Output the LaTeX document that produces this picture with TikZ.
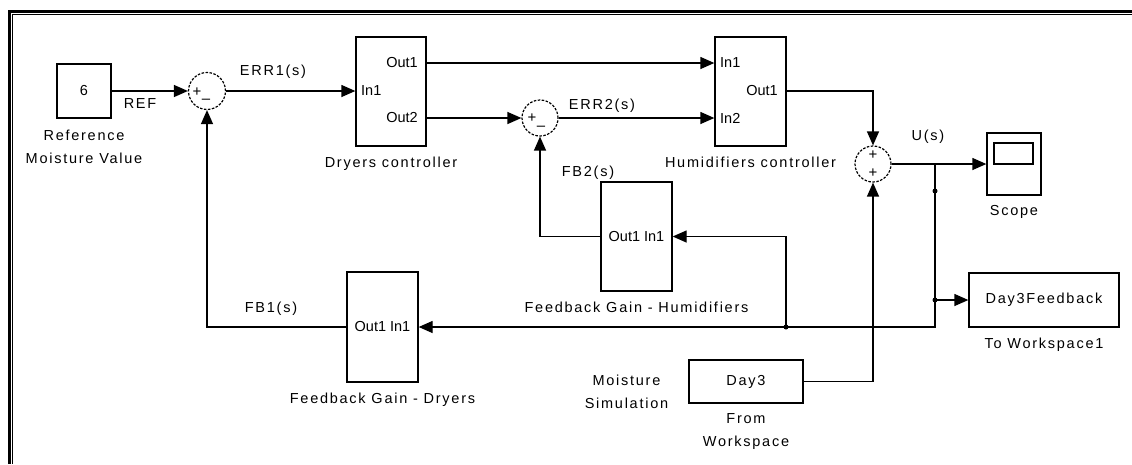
\documentclass[tikz,border=0pt]{standalone}
\usepackage{fontspec}
\setmainfont{Liberation Sans}
\newfontfamily\lblfont[LetterSpace=12]{Liberation Sans}
\usetikzlibrary{arrows.meta,positioning}

\begin{document}
\begin{tikzpicture}[
    x=1pt, y=-1pt,
    node distance=10pt,
    block/.style={draw, line width=1.3pt, inner sep=0pt, font=\lblfont\fontsize{14.5}{16}\selectfont},
    sumnode/.style={draw, circle, dash pattern=on 2.5pt off 1.5pt, line width=1.2pt, minimum size=37pt, inner sep=0pt},
    sig/.style={line width=1.3pt, -{Triangle[length=14pt,width=12pt]}},
    lbl/.style={font=\lblfont\fontsize{14.5}{23}\selectfont, inner sep=0pt, align=center},
    port/.style={font=\fontsize{14.5}{16}\selectfont, inner sep=0pt},
    sgn/.style={font=\fontsize{15}{16}\selectfont, inner sep=0pt},
    dot/.style={circle, fill, inner sep=0pt, minimum size=5pt}
]
    \useasboundingbox (0,0) rectangle (1132,464);
    % frame
    \draw[line width=2.7pt] (9.6,464) |- (1132,11.4);
    \draw[line width=1pt] (12.9,464) |- (1132,14.4);

    % blocks
    \node (ref) [block, minimum width=54pt, minimum height=54pt] at (84,91) {\raisebox{2pt}{6}\hspace{5pt}};
    \node (sum1) [sumnode] at (207,91) {};
    \node (dry) [block, minimum width=70pt, minimum height=109pt] at (391,91.5) {};
    \node (hum) [block, minimum width=71pt, minimum height=109pt] at (750.5,91.5) {};
    \node (sum2) [sumnode, minimum size=36pt] at (540,118) {};
    \node (sum3) [sumnode, minimum size=36pt] at (873,164) {};
    \node (scope) [block, minimum width=54pt, minimum height=62pt] at (1014,164) {};
    \node (fb2) [block, font=\fontsize{14.5}{16}\selectfont, minimum width=71pt, minimum height=109pt] at (636.5,236.5) {Out1 In1};
    \node (fb1) [block, font=\fontsize{14.5}{16}\selectfont, minimum width=71pt, minimum height=110pt] at (382.5,327) {Out1 In1};
    \node (day3) [block, minimum width=114pt, minimum height=43pt] at (746,381.5) {Day3};
    \node (tows) [block, minimum width=150pt, minimum height=54pt] at (1044,300) {Day3Feedback};
    \draw[line width=1.2pt] (994,143) rectangle (1033,164);

    % ports
    \node (dryI1) [port, anchor=west] at (361,91) {In1};
    \node (dryO1) [port, anchor=east] at (418,63) {Out1};
    \node (dryO2) [port, anchor=east] at (418,118) {Out2};
    \node (humI1) [port, anchor=west] at (720,63) {In1};
    \node (humI2) [port, anchor=west] at (720,118) {In2};
    \node (humO1) [port, anchor=east] at (778,91) {Out1};

    % signs
    \node[sgn] at (197,92) {+};
    \node[sgn] at (206,101) {--};
    \node[sgn] at (532,118.5) {+};
    \node[sgn] at (541,128) {--};
    \node[sgn] at (873,155.5) {+};
    \node[sgn] at (873,173) {+};

    % captions
    \node[lbl, below=11.5pt of ref] {Reference\\Moisture Value};
    \node[lbl, below=of dry] {Dryers controller};
    \node[lbl, below=of hum] {Humidifiers controller};
    \node[lbl, below=9.5pt of scope] {Scope};
    \node[lbl, below=10.5pt of fb2] {Feedback Gain - Humidifiers};
    \node[lbl, below=of fb1] {Feedback Gain - Dryers};
    \node[lbl, below=of day3] {From\\Workspace};
    \node[lbl, below=of tows] {To Workspace1};
    \node[lbl, anchor=north east] at ([shift={(-20pt,6.5pt)}]day3.west) {Moisture\\Simulation};

    % signal names
    \node[lbl] at (140,104) {REF};
    \node[lbl] at (273,72) {ERR1(s)};
    \node[lbl] at (602,106) {ERR2(s)};
    \node[lbl] at (588,173) {FB2(s)};
    \node[lbl] at (271,309) {FB1(s)};
    \node[lbl] at (928,137) {U(s)};

    % connectors
    \coordinate (br1) at (935,164);
    \coordinate (br2) at (786,327);
    \draw[sig] (ref) -- (sum1);
    \draw[sig] (sum1) -- (dry.west |- sum1);
    \draw[sig] (dry.east |- dryO1) -- (hum.west |- dryO1);
    \draw[sig] (dry.east |- dryO2) -- (sum2);
    \draw[sig] (sum2) -- (hum.west |- sum2);
    \draw[sig] (hum.east |- humO1) -| (sum3);
    \draw[sig] (sum3) -- (scope);
    \draw[sig] (br1) |- (fb1);
    \draw[sig] (br2) |- (fb2);
    \draw[sig] (tows.west -| br1) -- (tows);
    \draw[sig] (fb2) -| (sum2);
    \draw[sig] (fb1) -| (sum1);
    \draw[sig] (day3) -| (sum3);
    \node[dot] at (br2) {};
    \node[dot] at (tows.west -| br1) {};
    \node (dotU) [dot] at (935,191) {};
\end{tikzpicture}
\end{document}
